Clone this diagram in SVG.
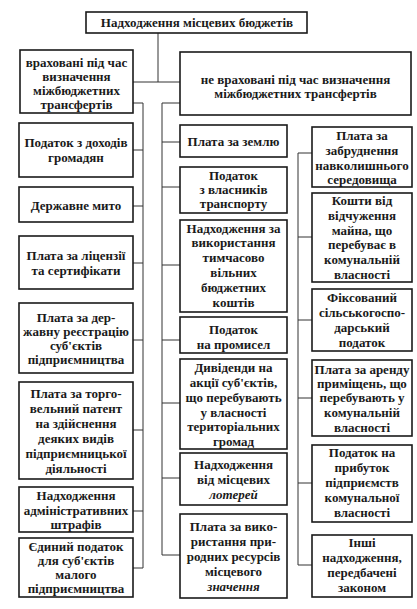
<svg xmlns="http://www.w3.org/2000/svg" width="417" height="609" viewBox="0 0 417 609">
<style>
.b{fill:#fff;stroke:#1a1a1a;stroke-width:1.6}
.t{font-family:"Liberation Serif","DejaVu Serif",serif;font-size:13px;font-weight:bold;fill:#1a1a1a;text-anchor:middle}
.c{fill:none;stroke:#333;stroke-width:1}
.i{font-style:italic}
</style>
<rect width="417" height="609" fill="#fff"/>
<g id="connectors">
<path class="c" d="M158,33V82M133,82H180"/>
<path class="c" d="M133,103H143V568M133,150H143M133,206H143M133,263H143M133,340H143M133,430H143M133,511H143M133,568H143"/>
<path class="c" d="M180,103H162V555M162,142H180M162,187H180M162,265H180M162,340H180M162,403H180M162,478H180M162,555H180"/>
<path class="c" d="M312,153H298V565M298,237H312M298,320H312M298,398H312M298,483H312M298,565H312"/>
</g>
<g id="title"><rect class="b" x="86" y="12" width="221" height="21"/><text class="t" x="197" y="27">Надходження місцевих бюджетів</text></g>
<g id="head-left"><rect class="b" x="20" y="50" width="113" height="63"/><text class="t" x="76.5" y="67">враховані під час<tspan x="76.5" y="81">визначення</tspan><tspan x="76.5" y="95">міжбюджетних</tspan><tspan x="76.5" y="109">трансфертів</tspan></text></g>
<g id="head-right"><rect class="b" x="180" y="52" width="231" height="63"/><text class="t" x="295.5" y="84">не враховані під час визначення<tspan x="295.5" y="98">міжбюджетних трансфертів</tspan></text></g>

<g id="l1"><rect class="b" x="19" y="123" width="114" height="54"/><text class="t" x="76" y="147">Податок з доходів<tspan x="76" y="162">громадян</tspan></text></g>
<g id="l2"><rect class="b" x="19" y="187" width="114" height="35"/><text class="t" x="76" y="210">Державне мито</text></g>
<g id="l3"><rect class="b" x="19" y="236" width="114" height="53"/><text class="t" x="76" y="260">Плата за ліцензії<tspan x="76" y="275">та сертифікати</tspan></text></g>
<g id="l4"><rect class="b" x="19" y="303" width="114" height="70"/><text class="t" x="76" y="322">Плата за дер-<tspan x="76" y="336">жавну реєстрацію</tspan><tspan x="76" y="350">суб'єктів</tspan><tspan x="76" y="364">підприємництва</tspan></text></g>
<g id="l5"><rect class="b" x="19" y="382" width="114" height="97"/><text class="t" x="76" y="398">Плата за торго-<tspan x="76" y="413">вельний патент</tspan><tspan x="76" y="428">на здійснення</tspan><tspan x="76" y="443">деяких видів</tspan><tspan x="76" y="458">підприємницької</tspan><tspan x="76" y="473">діяльності</tspan></text></g>
<g id="l6"><rect class="b" x="19" y="487" width="114" height="45"/><text class="t" x="76" y="500">Надходження<tspan x="76" y="515">адміністративних</tspan><tspan x="76" y="529">штрафів</tspan></text></g>
<g id="l7"><rect class="b" x="19" y="538" width="114" height="59"/><text class="t" x="76" y="551">Єдиний податок<tspan x="76" y="565">для суб'єктів</tspan><tspan x="76" y="579">малого</tspan><tspan x="76" y="593">підприємництва</tspan></text></g>

<g id="m1"><rect class="b" x="180" y="125" width="107" height="32"/><text class="t" x="233.5" y="146">Плата за землю</text></g>
<g id="m2"><rect class="b" x="180" y="167" width="107" height="46"/><text class="t" x="233.5" y="180">Податок<tspan x="233.5" y="194">з власників</tspan><tspan x="233.5" y="208">транспорту</tspan></text></g>
<g id="m3"><rect class="b" x="180" y="220" width="107" height="92"/><text class="t" x="233.5" y="233">Надходження за<tspan x="233.5" y="247">використання</tspan><tspan x="233.5" y="262">тимчасово</tspan><tspan x="233.5" y="277">вільних</tspan><tspan x="233.5" y="292">бюджетних</tspan><tspan x="233.5" y="307">коштів</tspan></text></g>
<g id="m4"><rect class="b" x="180" y="317" width="107" height="36"/><text class="t" x="233.5" y="334">Податок<tspan x="233.5" y="349">на промисел</tspan></text></g>
<g id="m5"><rect class="b" x="180" y="359" width="107" height="90"/><text class="t" x="233.5" y="372">Дивіденди на<tspan x="233.5" y="387">акції суб'єктів,</tspan><tspan x="233.5" y="402">що перебувають</tspan><tspan x="233.5" y="417">у власності</tspan><tspan x="233.5" y="431">територіальних</tspan><tspan x="233.5" y="446">громад</tspan></text></g>
<g id="m6"><rect class="b" x="180" y="453" width="107" height="52"/><text class="t" x="233.5" y="469">Надходження<tspan x="233.5" y="484">від місцевих</tspan><tspan class="i" x="233.5" y="499">лотерей</tspan></text></g>
<g id="m7"><rect class="b" x="180" y="514" width="107" height="84"/><text class="t" x="233.5" y="531">Плата за вико-<tspan x="233.5" y="546">ристання при-</tspan><tspan x="233.5" y="561">родних ресурсів</tspan><tspan x="233.5" y="576">місцевого</tspan><tspan class="i" x="233.5" y="591">значення</tspan></text></g>

<g id="r1"><rect class="b" x="312" y="127" width="100" height="60"/><text class="t" x="362" y="140">Плата за<tspan x="362" y="155">забруднення</tspan><tspan x="362" y="170">навколишнього</tspan><tspan x="362" y="184">середовища</tspan></text></g>
<g id="r2"><rect class="b" x="312" y="193" width="100" height="89"/><text class="t" x="362" y="205">Кошти від<tspan x="362" y="220">відчуження</tspan><tspan x="362" y="235">майна, що</tspan><tspan x="362" y="249">перебуває в</tspan><tspan x="362" y="264">комунальній</tspan><tspan x="362" y="279">власності</tspan></text></g>
<g id="r3"><rect class="b" x="312" y="289" width="100" height="62"/><text class="t" x="362" y="302">Фіксований<tspan x="362" y="317">сільськогоспо-</tspan><tspan x="362" y="332">дарський</tspan><tspan x="362" y="347">податок</tspan></text></g>
<g id="r4"><rect class="b" x="312" y="360" width="100" height="76"/><text class="t" x="362" y="374">Плата за аренду<tspan x="362" y="388">приміщень, що</tspan><tspan x="362" y="402">перебувають у</tspan><tspan x="362" y="417">комунальній</tspan><tspan x="362" y="432">власності</tspan></text></g>
<g id="r5"><rect class="b" x="312" y="445" width="100" height="77"/><text class="t" x="362" y="457">Податок на<tspan x="362" y="472">прибуток</tspan><tspan x="362" y="487">підприємств</tspan><tspan x="362" y="502">комунальної</tspan><tspan x="362" y="517">власності</tspan></text></g>
<g id="r6"><rect class="b" x="312" y="535" width="100" height="62"/><text class="t" x="362" y="547">Інші<tspan x="362" y="562">надходження,</tspan><tspan x="362" y="577">передбачені</tspan><tspan x="362" y="592">законом</tspan></text></g>
</svg>
